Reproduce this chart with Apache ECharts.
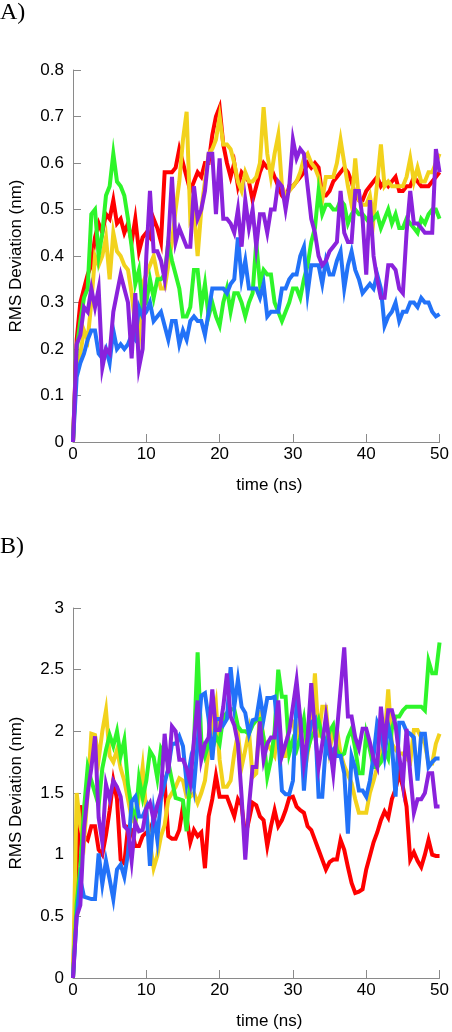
<!DOCTYPE html>
<html><head><meta charset="utf-8">
<script src="https://cdn.jsdelivr.net/npm/echarts@6/dist/echarts.min.js"></script>
<style>html,body{margin:0;padding:0;background:#fff}#c{width:452px;height:1032px}</style>
</head><body><div id="c"></div>
<script>
// time samples (ns)
const time = [0,0.5,1,1.5,2,2.5,3,3.5,4,4.5,5,5.5,6,6.5,7,7.5,8,8.5,9,9.5,
10,10.5,11,11.5,12,12.5,13,13.5,14,14.5,15,15.5,16,16.5,17,17.5,18,18.5,19,19.5,
20,20.5,21,21.5,22,22.5,23,23.5,24,24.5,25,25.5,26,26.5,27,27.5,28,28.5,29,29.5,
30,30.5,31,31.5,32,32.5,33,33.5,34,34.5,35,35.5,36,36.5,37,37.5,38,38.5,39,39.5,
40,40.5,41,41.5,42,42.5,43,43.5,44,44.5,45,45.5,46,46.5,47,47.5,48,48.5,49,49.5,50];

// Panel A (nm)
const redA = [0,0.22,0.3,0.33,0.36,0.38,0.44,0.47,0.45,0.49,
0.48,0.52,0.47,0.48,0.45,0.47,0.43,0.48,0.41,0.44,
0.45,0.44,0.48,0.46,0.43,0.58,0.58,0.58,0.59,0.63,
0.6,0.57,0.54,0.56,0.58,0.57,0.6,0.6,0.66,0.7,
0.72,0.64,0.6,0.57,0.6,0.55,0.58,0.57,0.56,0.52,
0.55,0.58,0.6,0.59,0.59,0.57,0.55,0.53,0.52,0.55,
0.55,0.56,0.57,0.58,0.6,0.59,0.6,0.59,0.53,0.53,
0.54,0.56,0.57,0.58,0.59,0.58,0.56,0.53,0.52,0.52,
0.54,0.55,0.56,0.57,0.55,0.56,0.55,0.56,0.57,0.54,
0.54,0.55,0.55,0.57,0.56,0.55,0.55,0.55,0.56,0.57,
0.58];
const yellowA = [0,0.17,0.19,0.24,0.22,0.3,0.4,0.38,0.4,0.44,
0.35,0.45,0.41,0.4,0.38,0.37,0.32,0.25,0.22,0.34,
0.36,0.38,0.4,0.36,0.33,0.33,0.38,0.43,0.5,0.56,
0.65,0.71,0.48,0.5,0.4,0.5,0.56,0.62,0.63,0.65,
0.7,0.64,0.64,0.63,0.6,0.56,0.54,0.58,0.56,0.56,
0.57,0.6,0.72,0.62,0.57,0.62,0.66,0.55,0.53,0.54,
0.55,0.56,0.58,0.61,0.62,0.6,0.59,0.57,0.52,0.57,
0.57,0.57,0.6,0.65,0.6,0.55,0.51,0.61,0.52,0.51,
0.51,0.53,0.48,0.56,0.64,0.55,0.56,0.55,0.55,0.55,
0.55,0.57,0.61,0.56,0.59,0.56,0.56,0.58,0.58,0.6,
0.62];
const greenA = [0,0.2,0.26,0.31,0.33,0.49,0.5,0.4,0.45,0.53,
0.55,0.62,0.56,0.55,0.53,0.48,0.42,0.34,0.37,0.29,
0.3,0.35,0.31,0.35,0.35,0.36,0.43,0.39,0.36,0.33,
0.27,0.27,0.29,0.37,0.37,0.29,0.34,0.27,0.3,0.27,
0.25,0.3,0.33,0.28,0.32,0.32,0.3,0.27,0.3,0.32,
0.43,0.34,0.37,0.36,0.36,0.3,0.28,0.26,0.28,0.3,
0.33,0.33,0.31,0.35,0.38,0.43,0.46,0.54,0.49,0.51,
0.51,0.5,0.5,0.52,0.51,0.47,0.49,0.5,0.49,0.49,
0.48,0.47,0.48,0.49,0.46,0.48,0.5,0.47,0.49,0.46,
0.46,0.48,0.47,0.46,0.45,0.48,0.47,0.49,0.5,0.5,
0.48];
const blueA = [0,0.14,0.17,0.19,0.22,0.24,0.24,0.19,0.18,0.2,
0.17,0.24,0.2,0.21,0.2,0.21,0.23,0.22,0.29,0.27,
0.28,0.3,0.26,0.27,0.28,0.25,0.22,0.26,0.26,0.21,
0.24,0.22,0.26,0.27,0.26,0.26,0.23,0.28,0.33,0.33,
0.33,0.33,0.32,0.34,0.35,0.44,0.35,0.39,0.33,0.33,
0.33,0.31,0.34,0.27,0.28,0.28,0.28,0.33,0.33,0.35,
0.36,0.36,0.4,0.42,0.32,0.38,0.38,0.38,0.34,0.39,
0.36,0.36,0.39,0.41,0.33,0.38,0.41,0.37,0.35,0.32,
0.33,0.34,0.33,0.36,0.33,0.25,0.27,0.28,0.3,0.26,
0.28,0.28,0.3,0.3,0.29,0.31,0.3,0.3,0.28,0.27,
0.275];
const purpleA = [0,0.21,0.23,0.29,0.28,0.33,0.29,0.33,0.16,0.2,
0.19,0.28,0.32,0.36,0.33,0.3,0.18,0.32,0.16,0.2,
0.4,0.54,0.41,0.41,0.39,0.35,0.43,0.57,0.43,0.46,
0.44,0.42,0.42,0.55,0.48,0.5,0.54,0.62,0.62,0.49,
0.61,0.48,0.48,0.47,0.45,0.5,0.42,0.52,0.46,0.5,
0.42,0.49,0.49,0.45,0.5,0.5,0.56,0.55,0.5,0.55,
0.65,0.61,0.63,0.62,0.55,0.48,0.45,0.4,0.38,0.39,
0.41,0.42,0.43,0.54,0.45,0.43,0.43,0.54,0.54,0.48,
0.36,0.52,0.4,0.35,0.31,0.31,0.38,0.38,0.37,0.33,
0.32,0.45,0.54,0.47,0.47,0.46,0.45,0.45,0.45,0.63,
0.58];

// Panel B (nm)
const redB = [0,0.9,1.4,1.15,1.12,1.23,1.23,1.04,1.0,1.16,
1.36,1.6,1.45,0.96,0.93,1.22,1.2,1.07,1.07,1.15,
1.18,1.2,1.28,1.39,1.47,1.58,1.15,1.13,1.13,1.2,
1.39,1.3,1.1,1.2,1.15,1.18,0.89,1.31,1.45,1.64,
1.47,1.47,1.47,1.39,1.31,1.45,1.4,1.15,1.28,1.42,
1.4,1.31,1.28,1.07,1.23,1.36,1.23,1.28,1.36,1.46,
1.47,1.39,1.36,1.34,1.23,1.2,1.12,1.04,0.96,0.88,
0.94,0.96,0.96,1.12,1.04,0.9,0.77,0.69,0.7,0.72,
0.88,0.99,1.1,1.18,1.28,1.35,1.3,1.45,1.53,1.66,
1.55,1.39,0.96,1.02,0.95,0.9,1.0,1.12,1.0,0.99,
0.99];
const yellowB = [0,1.5,1.23,1.1,1.5,1.98,1.97,1.77,2.0,2.17,
1.8,1.75,1.85,1.7,1.6,1.45,1.3,1.25,1.47,1.71,
1.34,1.1,0.89,0.99,1.15,1.24,1.45,1.5,1.55,1.62,
1.6,1.47,1.47,1.5,1.42,1.5,1.6,1.85,2.05,2.22,
1.77,1.55,1.55,1.6,1.82,1.98,1.71,1.85,2.0,1.63,
1.66,2.17,1.93,1.9,1.85,1.8,2.05,1.8,1.8,2.08,
2.08,1.93,2.1,2.08,1.82,2.0,2.47,1.95,2.2,2.2,
1.85,2.0,2.02,1.82,1.72,1.65,1.58,1.45,1.34,1.34,
1.34,1.5,1.6,1.71,1.8,1.94,2.34,1.9,1.85,1.82,
1.82,1.78,1.75,2.01,2.01,1.95,1.9,1.74,1.74,1.9,
1.98];
const greenB = [0,0.6,0.9,1.37,1.71,1.6,1.5,1.4,1.7,1.85,
1.97,1.88,2.0,1.8,1.93,1.57,1.38,1.27,1.62,1.46,
1.6,1.84,1.79,1.62,1.86,1.8,1.75,1.6,1.46,1.45,
1.44,1.19,1.62,1.9,2.64,1.93,1.8,1.9,1.85,1.96,
1.9,2.12,2.15,2.18,2.18,2.04,2.0,2.0,1.98,2.05,
2.09,2.1,1.95,1.63,1.77,2.0,2.5,2.28,2.28,1.82,
1.93,1.85,1.95,2.1,1.85,1.95,2.0,2.09,1.95,1.9,
2.0,2.05,1.85,1.8,1.82,1.95,2.02,1.86,1.66,1.66,
1.98,1.85,1.71,1.71,1.75,1.85,1.78,2.02,2.12,2.12,
2.17,2.2,2.2,2.2,2.2,2.2,2.17,2.57,2.47,2.47,
2.72];
const blueB = [0,0.5,0.8,0.66,0.65,0.64,0.64,1.01,0.76,0.95,
0.8,0.64,0.88,0.92,0.82,1.01,1.43,1.47,1.31,1.31,
1.38,0.91,1.34,1.12,1.45,1.58,1.7,1.9,1.9,1.96,
1.88,1.58,1.75,1.55,1.9,2.29,2.31,2.1,1.77,2.1,
2.1,2.05,2.1,2.52,2.2,2.42,2.2,2.15,1.98,2.09,
2.1,2.29,2.1,2.27,2.27,2.28,1.95,1.52,1.49,1.49,
1.6,2.24,2.1,1.52,1.9,2.07,2.1,1.47,1.47,1.9,
1.8,1.85,1.8,1.8,1.66,1.17,1.8,1.7,1.52,1.52,
1.47,1.6,1.8,2.07,2.0,1.8,2.05,1.9,1.47,2.07,
2.07,2.0,1.98,1.95,1.6,1.98,1.98,1.71,1.75,1.78,
1.78];
const purpleB = [0,0.5,0.59,1.21,1.5,1.7,1.96,1.3,1.1,1.57,
1.45,1.6,1.55,1.47,1.23,1.2,0.95,1.26,1.19,1.2,
1.37,1.42,1.28,1.4,1.5,1.98,1.66,2.04,2.0,1.77,
1.77,1.7,1.58,1.93,2.25,1.77,1.9,1.95,2.34,2.01,
2.01,2.2,2.47,2.12,2.05,1.9,1.47,0.96,1.39,1.71,
1.71,2.08,1.77,1.9,1.95,1.95,2.25,1.8,1.9,2.0,
2.2,2.41,2.1,1.74,1.95,2.39,2.0,1.71,1.9,2.12,
1.9,1.66,2.0,2.34,2.68,2.12,2.12,1.95,1.86,2.02,
2.02,1.91,1.78,1.71,2.2,1.9,2.17,2.17,2.05,1.8,
1.58,2.02,1.66,1.34,1.45,1.45,1.5,1.66,1.66,1.39,
1.39];

const xTicks = {min: 0, max: 50, interval: 10};
const yTicksA = {min: 0, max: 0.8, interval: 0.1};
const yTicksB = {min: 0, max: 3, interval: 0.5};
const colors = {red:'#ff0000', yellow:'#f2d21c', green:'#2ef52a', blue:'#2272f8', purple:'#8a22dc'};

const AXIS_COLOR = '#8a8a8a';
const FONT = '"Liberation Sans", Arial, sans-serif';

function xAxis(gi){
  return {type:'value', gridIndex:gi, min:xTicks.min, max:xTicks.max, interval:xTicks.interval,
    name:'time (ns)', nameLocation:'middle', nameGap:35,
    nameTextStyle:{color:'#000', fontSize:17, fontFamily:FONT, padding:[0,0,0,26]},
    axisLine:{show:true, onZero:false, lineStyle:{color:AXIS_COLOR, width:1}},
    axisTick:{show:true, inside:true, length:8, lineStyle:{color:AXIS_COLOR, width:1}},
    axisLabel:{margin:4, color:'#000', fontSize:17, fontFamily:FONT},
    splitLine:{show:false}};
}
function yAxis(gi, t){
  return {type:'value', gridIndex:gi, min:t.min, max:t.max, interval:t.interval,
    name:'RMS Deviation (nm)', nameLocation:'middle', nameGap:48, nameRotate:90,
    nameTextStyle:{color:'#000', fontSize:17, fontFamily:FONT},
    axisLine:{show:true, onZero:false, lineStyle:{color:AXIS_COLOR, width:1}},
    axisTick:{show:true, inside:true, length:8, lineStyle:{color:AXIS_COLOR, width:1}},
    axisLabel:{margin:9, color:'#000', fontSize:17, fontFamily:FONT},
    splitLine:{show:false}};
}
function pairs(vals){ return vals.map((v,i)=>[time[i], v]); }
function line(name, vals, color, gi){
  return {name, type:'line', xAxisIndex:gi, yAxisIndex:gi, data:pairs(vals),
    showSymbol:false, symbol:'none', smooth:false, animation:false,
    lineStyle:{color, width:4, join:'miter'}, itemStyle:{color}};
}

const chart = echarts.init(document.getElementById('c'), null, {renderer:'canvas'});
chart.setOption({
  backgroundColor:'#fff',
  animation:false,
  grid:[
    {left:73, top:70, width:370, height:372, containLabel:false},
    {left:73, top:608, width:370, height:370, containLabel:false}
  ],
  xAxis:[xAxis(0), xAxis(1)],
  yAxis:[yAxis(0, yTicksA), yAxis(1, yTicksB)],
  series:[
    line('A red', redA, colors.red, 0),
    line('A yellow', yellowA, colors.yellow, 0),
    line('A green', greenA, colors.green, 0),
    line('A blue', blueA, colors.blue, 0),
    line('A purple', purpleA, colors.purple, 0),
    line('B red', redB, colors.red, 1),
    line('B yellow', yellowB, colors.yellow, 1),
    line('B green', greenB, colors.green, 1),
    line('B blue', blueB, colors.blue, 1),
    line('B purple', purpleB, colors.purple, 1)
  ],
  graphic:[
    {type:'text', left:0, top:1, style:{text:'A)', fill:'#000', font:'24px "Liberation Serif", "Times New Roman", serif'}},
    {type:'text', left:0, top:535, style:{text:'B)', fill:'#000', font:'24px "Liberation Serif", "Times New Roman", serif'}}
  ]
});
</script></body></html>
